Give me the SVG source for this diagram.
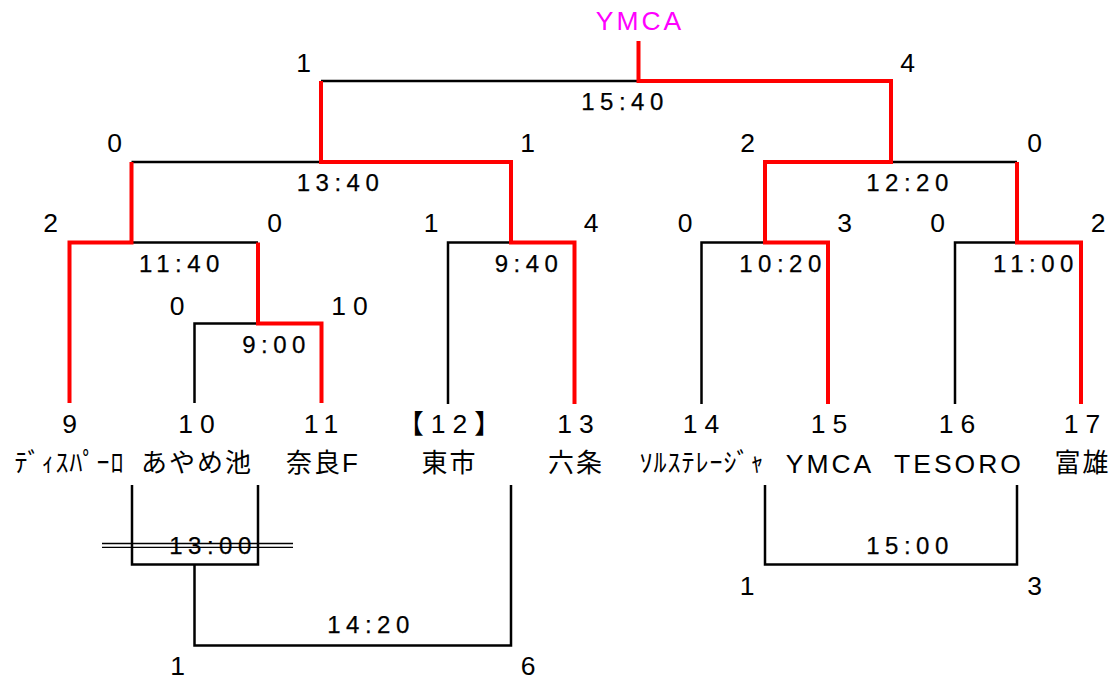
<svg xmlns="http://www.w3.org/2000/svg" width="1114" height="679" viewBox="0 0 1114 679">
<style>
text{font-family:"Liberation Sans","Noto Sans CJK JP",sans-serif;fill:#000;text-anchor:middle}
.sc{font-size:26.5px;letter-spacing:7px}
.tm{font-size:24px;letter-spacing:5.5px;stroke:#000;stroke-width:0.25}
.nm{font-size:26px;letter-spacing:2px}
.lat{font-size:26.5px;letter-spacing:3px}
.hw{font-size:26px;letter-spacing:1px}
.win{fill:#FF00FF}
.b{fill:none;stroke:#000;stroke-width:2.5}
.r{fill:none;stroke:#FF0000;stroke-width:4}
.dl{fill:none;stroke:#000;stroke-width:1.3}
</style>
<rect width="1114" height="679" fill="#fff"/>
<g id="connectors">
  <path class="b" d="M321,81 H638.5"/>
  <path class="b" d="M131.5,162 H321"/>
  <path class="b" d="M891,162 H1017"/>
  <path class="b" d="M131.5,242.5 H258"/>
  <path class="b" d="M194.5,403 V323.5 H258"/>
  <path class="b" d="M448,404 V242.5 H511"/>
  <path class="b" d="M701.5,404 V242.5 H765"/>
  <path class="b" d="M955,404 V242.5 H1017"/>
  <path class="b" d="M132,485 V564.5 H258 V485"/>
  <path class="b" d="M194.5,564.5 V645.5 H511 V485"/>
  <path class="b" d="M765,485 V564.5 H1017 V485"/>
  <path class="dl" d="M102,543.5 H293 M102,547.3 H293"/>
  <path class="r" d="M638.5,41 V81 H891 V162 H765 V242.5 H828 V404"/>
  <path class="r" d="M321,81 V162 H511 V242.5 H574.5 V404"/>
  <path class="r" d="M131.5,162 V242.5 H69.5 V403"/>
  <path class="r" d="M258,242.5 V323.5 H321.5 V403"/>
  <path class="r" d="M1017,162 V242.5 H1081 V404"/>
  <g id="scores">
    <text class="sc" x="307" y="72">1</text>
    <text class="sc" x="911" y="72">4</text>
    <text class="sc" x="118" y="152">0</text>
    <text class="sc" x="531" y="152">1</text>
    <text class="sc" x="751" y="152">2</text>
    <text class="sc" x="1038" y="152">0</text>
    <text class="sc" x="54" y="232">2</text>
    <text class="sc" x="278" y="232">0</text>
    <text class="sc" x="434.5" y="232">1</text>
    <text class="sc" x="594.5" y="232">4</text>
    <text class="sc" x="688.5" y="232">0</text>
    <text class="sc" x="848" y="232">3</text>
    <text class="sc" x="941" y="232">0</text>
    <text class="sc" x="1101.5" y="232">2</text>
    <text class="sc" x="180.5" y="315">0</text>
    <text class="sc" x="353" y="315">10</text>
    <text class="sc" x="181" y="675">1</text>
    <text class="sc" x="531.5" y="675">6</text>
    <text class="sc" x="750.5" y="595">1</text>
    <text class="sc" x="1038" y="595">3</text>
  </g>
  <g id="times">
    <text class="tm" x="625" y="110">15:40</text>
    <text class="tm" x="340.5" y="191">13:40</text>
    <text class="tm" x="910" y="191">12:20</text>
    <text class="tm" x="182" y="272">11:40</text>
    <text class="tm" x="529" y="272">9:40</text>
    <text class="tm" x="783" y="272">10:20</text>
    <text class="tm" x="1036" y="272">11:00</text>
    <text class="tm" x="276.5" y="353">9:00</text>
    <text class="tm" x="213" y="554">13:00</text>
    <text class="tm" x="371" y="633">14:20</text>
    <text class="tm" x="910" y="554">15:00</text>
  </g>
</g>
<g id="champion"><text class="lat win" x="640" y="30">YMCA</text></g>
<g id="team9"><text class="sc" x="73" y="433">9</text><text class="hw" x="69.5" y="472">ﾃﾞｨｽﾊﾟｰﾛ</text></g>
<g id="team10"><text class="sc" x="200" y="433">10</text><text class="nm" x="197" y="472">あやめ池</text></g>
<g id="team11"><text class="sc" x="324.5" y="433">11</text><text class="nm" x="323" y="472">奈良F</text></g>
<g id="team12"><text class="sc" x="452.5" y="433">【12】</text><text class="nm" x="449.5" y="472">東市</text></g>
<g id="team13"><text class="sc" x="579" y="433">13</text><text class="nm" x="576" y="472">六条</text></g>
<g id="team14"><text class="sc" x="704.5" y="433">14</text><text class="hw" x="702" y="472">ｿﾙｽﾃﾚｰｼﾞｬ</text></g>
<g id="team15"><text class="sc" x="832.5" y="433">15</text><text class="lat" x="830" y="473">YMCA</text></g>
<g id="team16"><text class="sc" x="960.5" y="433">16</text><text class="lat" x="959" y="473">TESORO</text></g>
<g id="team17"><text class="sc" x="1085.5" y="433">17</text><text class="nm" x="1082.5" y="472">富雄</text></g>
</svg>
